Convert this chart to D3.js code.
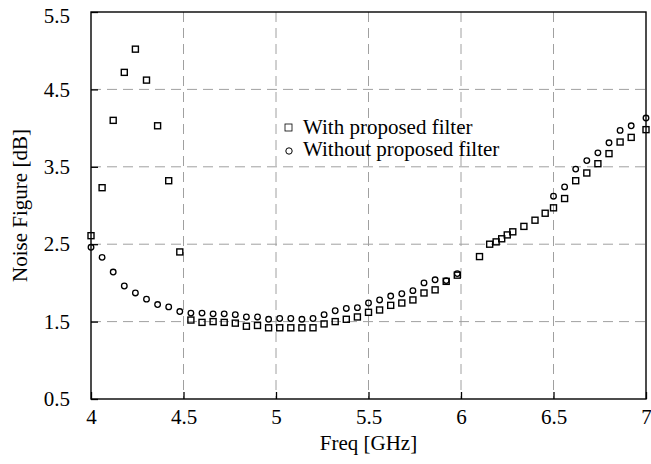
<!DOCTYPE html>
<html><head><meta charset="utf-8">
<script src="https://cdn.jsdelivr.net/npm/d3@7"></script>
<style>body{margin:0;background:#fff}svg{display:block}text{font-family:"Liberation Serif","Times New Roman","DejaVu Serif",serif}</style>
</head><body>
<svg id="c" width="651" height="464"></svg>
<script>
const xTicks = [4, 4.5, 5, 5.5, 6, 6.5, 7];
const xTickLabels = ["4", "4.5", "5", "5.5", "6", "6.5", "7"];
const yTicks = [0.5, 1.5, 2.5, 3.5, 4.5, 5.5];
const yTickLabels = ["0.5", "1.5", "2.5", "3.5", "4.5", "5.5"];

const seriesNames = ["With proposed filter", "Without proposed filter"];

const freqWith = [4.00,4.06,4.12,4.18,4.24,4.30,4.36,4.42,4.48,4.54,4.60,4.66,4.72,4.78,4.84,4.90,4.96,5.02,5.08,5.14,5.20,5.26,5.32,5.38,5.44,5.50,5.56,5.62,5.68,5.74,5.80,5.86,5.92,5.98,6.10,6.155,6.19,6.22,6.25,6.28,6.34,6.40,6.455,6.50,6.56,6.62,6.68,6.74,6.80,6.86,6.92,7.00];
const nfWith = [2.61,3.23,4.10,4.72,5.02,4.62,4.03,3.32,2.40,1.52,1.49,1.50,1.49,1.48,1.44,1.45,1.42,1.42,1.42,1.42,1.42,1.47,1.50,1.53,1.56,1.62,1.65,1.71,1.74,1.78,1.87,1.91,2.02,2.10,2.34,2.50,2.53,2.57,2.62,2.66,2.73,2.81,2.90,2.97,3.09,3.32,3.42,3.54,3.67,3.82,3.88,3.98];

const freqWithout = [4.00,4.06,4.12,4.18,4.24,4.30,4.36,4.42,4.48,4.54,4.60,4.66,4.72,4.78,4.84,4.90,4.96,5.02,5.08,5.14,5.20,5.26,5.32,5.38,5.44,5.50,5.56,5.62,5.68,5.74,5.80,5.86,5.92,5.98,6.50,6.56,6.62,6.68,6.74,6.80,6.86,6.92,7.00];
const nfWithout = [2.46,2.33,2.14,1.96,1.87,1.79,1.72,1.69,1.63,1.61,1.61,1.60,1.60,1.59,1.56,1.56,1.53,1.54,1.54,1.53,1.54,1.59,1.64,1.67,1.68,1.74,1.78,1.83,1.86,1.90,2.00,2.04,2.03,2.12,3.12,3.24,3.47,3.58,3.68,3.81,3.97,4.03,4.13];

const svg = d3.select("#c");
const L = 91, R = 646, T = 12, B = 399;
const x = d3.scaleLinear().domain([4, 7]).range([L, R]);
const y = d3.scaleLinear().domain([0.5, 5.5]).range([B, T]);
const FONT = '"Liberation Serif","Times New Roman","DejaVu Serif",serif';

// gridlines
const grid = svg.append("g").attr("stroke", "#a0a0a0").attr("stroke-width", 1).attr("stroke-dasharray", "10,6");
grid.selectAll(".gx").data(xTicks.slice(1, -1)).join("line")
  .attr("x1", d => x(d)).attr("x2", d => x(d)).attr("y1", T).attr("y2", B);
grid.selectAll(".gy").data(yTicks.slice(1, -1)).join("line")
  .attr("y1", d => y(d)).attr("y2", d => y(d)).attr("x1", L).attr("x2", R);

// axes with inward ticks
const xAxis = d3.axisBottom(x).tickValues(xTicks).tickFormat((d, i) => xTickLabels[i]).tickSizeInner(-7).tickSizeOuter(0).tickPadding(10);
const yAxis = d3.axisLeft(y).tickValues(yTicks).tickFormat((d, i) => yTickLabels[i]).tickSizeInner(-7).tickSizeOuter(0).tickPadding(21);
const gx = svg.append("g").attr("transform", `translate(0,${B})`).call(xAxis);
const gy = svg.append("g").attr("transform", `translate(${L},0)`).call(yAxis);
[gx, gy].forEach(g => {
  g.attr("font-family", null).attr("font-size", null);
  g.select(".domain").remove();
  g.selectAll(".tick line").attr("stroke", "#000").attr("stroke-width", 1.3);
  g.selectAll(".tick text").style("font-family", FONT).style("font-size", "21px").attr("fill", "#000");
});
gy.selectAll(".tick text").filter(d => d === 5.5).attr("dy", "0.48em");

// frame
svg.append("rect").attr("x", L).attr("y", T).attr("width", R - L).attr("height", B - T)
  .attr("fill", "none").attr("stroke", "#000").attr("stroke-width", 1.4);

// markers
const sq = 6;
svg.append("g").selectAll("rect").data(freqWith.map((f, i) => [f, nfWith[i]])).join("rect")
  .attr("x", d => x(d[0]) - sq / 2).attr("y", d => y(d[1]) - sq / 2)
  .attr("width", sq).attr("height", sq)
  .attr("fill", "none").attr("stroke", "#000").attr("stroke-width", 1.4);
svg.append("g").selectAll("circle").data(freqWithout.map((f, i) => [f, nfWithout[i]])).join("circle")
  .attr("cx", d => x(d[0])).attr("cy", d => y(d[1])).attr("r", 2.8)
  .attr("fill", "none").attr("stroke", "#000").attr("stroke-width", 1.3);

// legend
const leg = svg.append("g").attr("fill", "#000");
leg.append("rect").attr("x", 285).attr("y", 124).attr("width", 7).attr("height", 7)
  .attr("fill", "none").attr("stroke", "#000").attr("stroke-width", 0.8);
leg.append("text").attr("x", 303).attr("y", 134).style("font-size", "21px").text(seriesNames[0]);
leg.append("circle").attr("cx", 289).attr("cy", 151).attr("r", 3.2)
  .attr("fill", "none").attr("stroke", "#000").attr("stroke-width", 1);
leg.append("text").attr("x", 303).attr("y", 156).style("font-size", "21px").text(seriesNames[1]);

// axis titles
svg.append("text").attr("x", (L + R) / 2).attr("y", 450).attr("text-anchor", "middle")
  .style("font-size", "21px").text("Freq [GHz]");
svg.append("text").attr("transform", `translate(27,${(T + B) / 2}) rotate(-90)`).attr("text-anchor", "middle")
  .style("font-size", "21px").text("Noise Figure [dB]");
</script>
</body></html>
